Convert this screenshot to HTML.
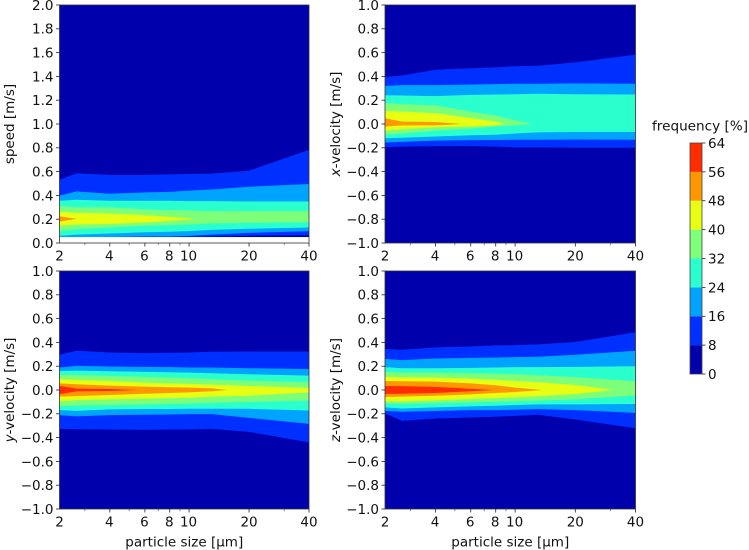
<!DOCTYPE html>
<html lang="en">
<head>
<meta charset="utf-8">
<title>Frequency contour charts</title>
<style>
html,body{margin:0;padding:0;background:#fff;width:749px;height:550px;overflow:hidden}
svg{display:block}
text{font-family:"DejaVu Sans","Liberation Sans",sans-serif;font-size:13.5px;fill:#111}
</style>
</head>
<body>
<svg id="chart" width="749" height="550" viewBox="0 0 749 550" xmlns="http://www.w3.org/2000/svg"></svg>
<script>
// Shared axis data
const sizes = [2.236, 2.72, 4, 6, 8, 10, 13, 20, 40];
const xTickValues = [2.236, 4, 6, 8, 10, 20, 40];
const xTickLabels = ['2', '4', '6', '8', '10', '20', '40'];
const xMinorTicks = [3, 5, 7, 9, 30];
const speedTicks = [0, 0.2, 0.4, 0.6, 0.8, 1.0, 1.2, 1.4, 1.6, 1.8, 2.0];
const velocityTicks = [-1, -0.8, -0.6, -0.4, -0.2, 0, 0.2, 0.4, 0.6, 0.8, 1];
const levels = [0, 8, 16, 24, 32, 40, 48, 56, 64];
const bandColors = ['#0000ac', '#0030ff', '#00a4ff', '#2affce', '#7dff7a', '#e6ff12', '#ff9800', '#ff2c00'];

// Contours: one row per level (8, 16, 24, ...), values in m/s
const speedUpper = [
  [.53, .586, .572, .572, .577, .58, .583, .608, .783],
  [.397, .434, .414, .425, .43, .44, .45, .473, .496],
  [.355, .363, .355, .355, .355, .352, .352, .349, .349],
  [.31, .299, .299, .282, .276, .273, .268, .268, .268],
  [.262, .254, .248, .234, .22, .208],
  [.225]
];
const speedLower = [
  [.05, .05, .05, .05, .05, .05, .055, .06, .065],
  [.05, .05, .05, .055, .055, .06, .07, .085, .10],
  [.06, .07, .08, .09, .095, .10, .11, .12, .13],
  [.10, .115, .13, .145, .15, .155, .165, .17, .175],
  [.145, .155, .16, .172, .186, .198],
  [.18]
];
const speedTips = [null, null, null, null, [10.6, .203], [2.72, .203]];

const xVelUpper = [
  [.394, .408, .456, .468, .476, .485, .49, .518, .583],
  [.32, .327, .327, .332, .335, .338, .338, .341, .338],
  [.242, .239, .234, .245, .248, .25, .254, .25, .248],
  [.175, .167, .155, .104, .07, .03],
  [.11, .105, .09, .05, .02],
  [.048, .02, .017]
];
const xVelLower = [
  [-.194, -.19, -.186, -.186, -.19, -.197, -.197, -.2, -.2],
  [-.155, -.15, -.14, -.136, -.135, -.132, -.132, -.13, -.132],
  [-.12, -.115, -.105, -.095, -.09, -.08, -.07, -.067, -.067],
  [-.09, -.08, -.056, -.04, -.02, -.01],
  [-.056, -.045, -.027, -.02, -.01],
  [-.022, -.012, -.012]
];
const xVelTips = [null, null, null, [12.3, 0], [8.9, 0], [5.4, 0]];

const yVelUpper = [
  [.296, .33, .315, .31, .313, .315, .321, .324, .324],
  [.189, .203, .197, .194, .192, .189, .189, .183, .177],
  [.16, .163, .158, .152, .149, .146, .141, .132, .121],
  [.127, .127, .118, .11, .104, .099, .09, .079, .065],
  [.09, .085, .076, .062, .056, .051, .045, .034, .017],
  [.056, .048, .037, .028, .023, .02, .014],
  [.036, .012, .008]
];
const yVelLower = [
  [-.327, -.33, -.332, -.335, -.332, -.332, -.327, -.352, -.44],
  [-.211, -.222, -.211, -.208, -.206, -.203, -.203, -.234, -.285],
  [-.169, -.175, -.163, -.16, -.16, -.158, -.158, -.158, -.172],
  [-.135, -.13, -.127, -.121, -.115, -.113, -.107, -.1, -.09],
  [-.096, -.085, -.079, -.073, -.068, -.065, -.056, -.048, -.02],
  [-.056, -.051, -.042, -.031, -.025, -.02, -.011],
  [-.036, -.012, -.008]
];
const yVelTips = [null, null, null, null, null, [15.5, 0], [5.6, 0]];

const zVelUpper = [
  [.344, .338, .358, .366, .375, .377, .383, .403, .485],
  [.262, .251, .265, .27, .273, .276, .279, .296, .33],
  [.192, .183, .183, .186, .189, .192, .192, .194, .2],
  [.152, .146, .146, .141, .138, .132, .124, .107, .073],
  [.11, .107, .104, .096, .085, .076, .065, .042],
  [.076, .073, .07, .056, .04, .02],
  [.034, .033, .026, .01]
];
const zVelLower = [
  [-.197, -.259, -.239, -.231, -.225, -.217, -.208, -.248, -.321],
  [-.175, -.183, -.177, -.169, -.169, -.166, -.161, -.169, -.192],
  [-.146, -.155, -.146, -.138, -.132, -.127, -.121, -.121, -.118],
  [-.113, -.115, -.11, -.104, -.099, -.096, -.09, -.079, -.045],
  [-.096, -.096, -.087, -.076, -.068, -.062, -.051, -.034],
  [-.059, -.056, -.048, -.037, -.025, -.017],
  [-.034, -.031, -.025, -.01]
];
const zVelTips = [null, null, null, null, [31, 0], [13.7, 0], [7.8, 0]];

const NS = 'http://www.w3.org/2000/svg';
const svg = document.getElementById('chart');
const xMin = sizes[0];
const xMax = sizes[sizes.length - 1];

function addLine(parent, x1, y1, x2, y2, stroke, width, name) {
  const el = document.createElementNS(NS, 'line');
  el.setAttribute('x1', x1);
  el.setAttribute('y1', y1);
  el.setAttribute('x2', x2);
  el.setAttribute('y2', y2);
  el.setAttribute('stroke', stroke);
  el.setAttribute('stroke-width', width);
  
  
  parent.appendChild(el);
  return el;
}

function addText(parent, x, y, anchor, content, name) {
  const el = document.createElementNS(NS, 'text');
  el.setAttribute('x', x);
  el.setAttribute('y', y);
  el.setAttribute('text-anchor', anchor);
  el.textContent = content;
  
  
  parent.appendChild(el);
  return el;
}

function drawPanel(cfg) {
  const g = document.createElementNS(NS, 'g');
  
  
  svg.appendChild(g);

  const w = cfg.right - cfg.left;
  const h = cfg.bottom - cfg.top;
  const xScale = s => cfg.left + (Math.log(s) - Math.log(xMin)) / (Math.log(xMax) - Math.log(xMin)) * w;
  const yScale = v => cfg.bottom - (v - cfg.yMin) / (cfg.yMax - cfg.yMin) * h;

  // Lowest band
  const base = document.createElementNS(NS, 'rect');
  base.setAttribute('x', cfg.left);
  base.setAttribute('y', cfg.top);
  base.setAttribute('width', w);
  base.setAttribute('height', yScale(cfg.floor) - cfg.top);
  base.setAttribute('fill', bandColors[0]);
  
  
  g.appendChild(base);

  // Nested contour bands
  cfg.upper.forEach((row, i) => {
    const lower = cfg.lower[i];
    const tip = cfg.tips[i];
    const pts = [];
    row.forEach((v, k) => pts.push(xScale(sizes[k]).toFixed(2) + ',' + yScale(v).toFixed(2)));
    if (tip) pts.push(xScale(tip[0]).toFixed(2) + ',' + yScale(tip[1]).toFixed(2));
    for (let k = lower.length - 1; k >= 0; k--) {
      pts.push(xScale(sizes[k]).toFixed(2) + ',' + yScale(lower[k]).toFixed(2));
    }
    const poly = document.createElementNS(NS, 'polygon');
    poly.setAttribute('points', pts.join(' '));
    poly.setAttribute('fill', bandColors[i + 1]);
    
    
    g.appendChild(poly);
  });

  // Frame
  const frame = document.createElementNS(NS, 'rect');
  frame.setAttribute('x', cfg.left);
  frame.setAttribute('y', cfg.top);
  frame.setAttribute('width', w);
  frame.setAttribute('height', h);
  frame.setAttribute('fill', 'none');
  frame.setAttribute('stroke', '#333');
  frame.setAttribute('stroke-width', '0.8');
  
  
  g.appendChild(frame);

  // Y axis
  cfg.yTicks.forEach(v => {
    const y = yScale(v);
    addLine(g, cfg.left - 3.5, y, cfg.left, y, '#222', 0.8, 'y-tick');
    const label = (v < 0 ? '\u2212' : '') + Math.abs(v).toFixed(1);
    addText(g, cfg.left - 6, y + 4.9, 'end', label, 'y-tick-label');
  });

  // X axis
  xTickValues.forEach((s, i) => {
    const x = xScale(s);
    if (i > 0) addLine(g, x, cfg.bottom, x, cfg.bottom + 3.5, '#222', 0.8, 'x-tick');
    addText(g, x - (i > 0 && i < 5 ? 0.5 : 0), cfg.bottom + 17.5, 'middle', xTickLabels[i], 'x-tick-label');
  });
  xMinorTicks.forEach(s => {
    const x = xScale(s);
    addLine(g, x, cfg.bottom, x, cfg.bottom + 2.2, '#444', 0.6, 'x-minor-tick');
  });

  // Y title
  const ty = document.createElementNS(NS, 'text');
  ty.setAttribute('transform', 'translate(' + cfg.titleX + ',' + (cfg.top + cfg.bottom) / 2 + ') rotate(-90)');
  ty.setAttribute('text-anchor', 'middle');
  
  
  if (cfg.titleItalic) {
    const it = document.createElementNS(NS, 'tspan');
    it.setAttribute('font-style', 'italic');
    it.textContent = cfg.titleItalic;
    ty.appendChild(it);
  }
  ty.appendChild(document.createTextNode(cfg.title));
  g.appendChild(ty);

  // X title
  if (cfg.xTitle) {
    addText(g, (cfg.left + cfg.right) / 2, cfg.bottom + 37.5, 'middle', 'particle size [\u00b5m]', 'x-axis-title');
  }
}

drawPanel({ name: 'speed-panel', left: 59.5, right: 309, top: 5, bottom: 243, yMin: 0, yMax: 2, floor: 0.05,
  yTicks: speedTicks, upper: speedUpper, lower: speedLower, tips: speedTips,
  title: 'speed [m/s]', titleItalic: '', titleX: 14, xTitle: false });
drawPanel({ name: 'x-velocity-panel', left: 385, right: 635.5, top: 5, bottom: 243, yMin: -1, yMax: 1, floor: -1,
  yTicks: velocityTicks, upper: xVelUpper, lower: xVelLower, tips: xVelTips,
  title: '-velocity [m/s]', titleItalic: 'x', titleX: 340, xTitle: false });
drawPanel({ name: 'y-velocity-panel', left: 59.5, right: 309, top: 271, bottom: 509, yMin: -1, yMax: 1, floor: -1,
  yTicks: velocityTicks, upper: yVelUpper, lower: yVelLower, tips: yVelTips,
  title: '-velocity [m/s]', titleItalic: 'y', titleX: 14, xTitle: true });
drawPanel({ name: 'z-velocity-panel', left: 385, right: 635.5, top: 271, bottom: 509, yMin: -1, yMax: 1, floor: -1,
  yTicks: velocityTicks, upper: zVelUpper, lower: zVelLower, tips: zVelTips,
  title: '-velocity [m/s]', titleItalic: 'z', titleX: 340, xTitle: true });

// Colorbar
(function () {
  const g = document.createElementNS(NS, 'g');
  
  
  svg.appendChild(g);
  const left = 690, right = 702, top = 143, bottom = 374;
  const yScale = v => bottom - (v - levels[0]) / (levels[levels.length - 1] - levels[0]) * (bottom - top);
  bandColors.forEach((c, i) => {
    const r = document.createElementNS(NS, 'rect');
    r.setAttribute('x', left);
    r.setAttribute('y', yScale(levels[i + 1]));
    r.setAttribute('width', right - left);
    r.setAttribute('height', yScale(levels[i]) - yScale(levels[i + 1]));
    r.setAttribute('fill', c);
    
    
    g.appendChild(r);
  });
  const frame = document.createElementNS(NS, 'rect');
  frame.setAttribute('x', left);
  frame.setAttribute('y', top);
  frame.setAttribute('width', right - left);
  frame.setAttribute('height', bottom - top);
  frame.setAttribute('fill', 'none');
  frame.setAttribute('stroke', '#444');
  frame.setAttribute('stroke-width', '0.8');
  
  
  g.appendChild(frame);
  levels.forEach(v => {
    const y = yScale(v);
    addLine(g, right, y, right + 3.5, y, '#222', 0.8, 'colorbar-tick');
    addText(g, right + 6, y + 4.9, 'start', String(v), 'colorbar-tick-label');
  });
  const title = addText(g, 652, 130.5, 'start', 'frequency [%]', 'colorbar-title');
  title.setAttribute('style', 'font-size:13.6px');
})();
</script>
</body>
</html>
